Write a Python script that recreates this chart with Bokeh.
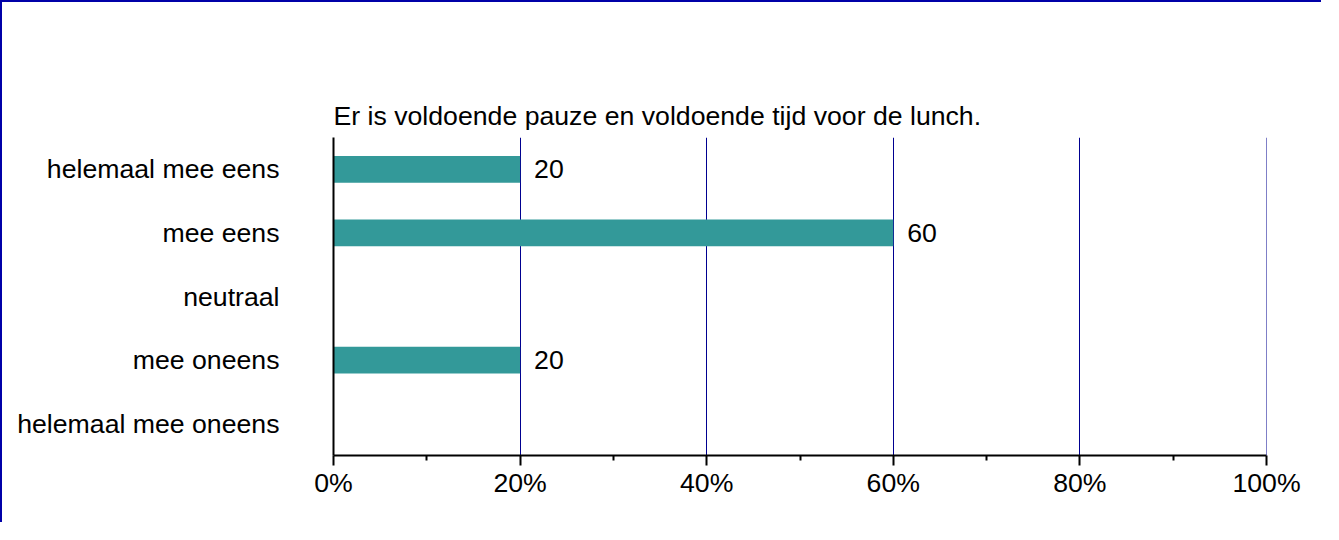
from bokeh.plotting import figure
from bokeh.models import FactorRange, Range1d, FixedTicker, PrintfTickFormatter, ColumnDataSource, Span
from bokeh.core.properties import value
from bokeh.embed import file_html
from bokeh.resources import INLINE

title_text = "Er is voldoende pauze en voldoende tijd voor de lunch."
categories = ["helemaal mee eens", "mee eens", "neutraal", "mee oneens", "helemaal mee oneens"]
percentages = [20, 60, 0, 20, 0]
x_ticks = [0, 20, 40, 60, 80, 100]
x_minor_ticks = [10, 30, 50, 70, 90]

FONT = "Liberation Sans"
FS = "20pt"
GRID = "#000090"

p = figure(
    width=1321, height=522,
    y_range=FactorRange(*reversed(categories), range_padding=0),
    x_range=Range1d(0, 100),
    output_backend="svg", toolbar_location=None,
    min_border_left=331, min_border_top=135, min_border_right=57, min_border_bottom=69,
)
p.styles = {"border-top": "2px solid #0000a8", "border-left": "2px solid #0000a8"}
p.outline_line_color = None
p.background_fill_color = "white"
p.border_fill_color = "white"

p.title.text = title_text
p.title.text_font = FONT
p.title.text_font_size = FS
p.title.text_font_style = "normal"
p.title.text_color = "black"
p.title.align = "left"
p.title.offset = 0
p.title.standoff = 14

p.xgrid.grid_line_color = GRID
p.xgrid.grid_line_width = 1
p.xgrid.ticker = FixedTicker(ticks=x_ticks)
p.ygrid.grid_line_color = None
p.add_layout(Span(location=x_ticks[-1], dimension="height", line_color=GRID, line_width=1))

src = ColumnDataSource(dict(cat=categories, val=percentages))
p.hbar(y="cat", right="val", left=0, height=0.42, source=src, fill_color="#339999", line_color=None)

lab_cats = [c for c, v in zip(categories, percentages) if v > 0]
lab_vals = [v for v in percentages if v > 0]
lsrc = ColumnDataSource(dict(cat=lab_cats, val=lab_vals, txt=[str(v) for v in lab_vals]))
p.text(x="val", y="cat", text="txt", source=lsrc, x_offset=14, text_baseline="middle", text_align="left",
       text_font=value(FONT), text_font_size=FS, text_color="black")

xa = p.xaxis[0]
xa.ticker = FixedTicker(ticks=x_ticks, minor_ticks=x_minor_ticks)
xa.formatter = PrintfTickFormatter(format="%d%%")
xa.axis_line_color = "black"
xa.axis_line_width = 2
xa.major_tick_in = 0
xa.major_tick_out = 10
xa.minor_tick_in = 0
xa.minor_tick_out = 5
xa.major_tick_line_color = "black"
xa.minor_tick_line_color = "black"
xa.major_tick_line_width = 2
xa.minor_tick_line_width = 2
xa.major_label_standoff = 2
xa.major_label_text_font = FONT
xa.major_label_text_font_size = FS
xa.major_label_text_color = "black"

ya = p.yaxis[0]
ya.axis_line_color = "black"
ya.axis_line_width = 2
ya.major_tick_in = 0
ya.major_tick_out = 0
ya.minor_tick_line_color = None
ya.major_tick_line_color = None
ya.major_label_standoff = 54
ya.major_label_text_font = FONT
ya.major_label_text_font_size = FS
ya.major_label_text_color = "black"

open("out.html", "w").write(file_html(p, INLINE))
